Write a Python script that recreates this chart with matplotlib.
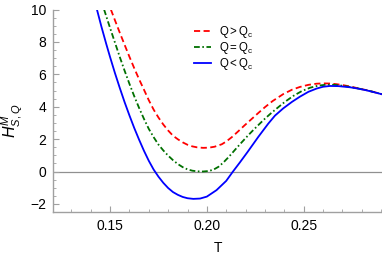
import matplotlib
matplotlib.use('Agg')
import matplotlib.pyplot as plt
from matplotlib.ticker import MultipleLocator

plt.rcParams['font.family'] = ['Liberation Sans', 'DejaVu Sans']
plt.rcParams['mathtext.fontset'] = 'custom'
plt.rcParams['mathtext.rm'] = 'Liberation Sans'
plt.rcParams['mathtext.it'] = 'Liberation Sans:italic'

# values
T_gt = [0.1504, 0.1525, 0.1550, 0.1575, 0.1600, 0.1625, 0.1650, 0.1675, 0.1700, 0.1725,
        0.1750, 0.1775, 0.1800, 0.1825, 0.1850, 0.1875, 0.1900, 0.1925, 0.1950, 0.1980,
        0.2010, 0.2040, 0.2077, 0.2100, 0.2130, 0.2162, 0.2195, 0.2223, 0.2260, 0.2300,
        0.2340, 0.2395, 0.2440, 0.2481, 0.2525, 0.2567, 0.2600, 0.2636, 0.2670, 0.2704,
        0.2739, 0.2780, 0.2825, 0.2865, 0.2904]
H_gt = [10.0, 9.34, 8.57, 7.82, 7.08, 6.37, 5.69, 5.05, 4.40, 3.82,
        3.33, 2.90, 2.53, 2.21, 1.99, 1.80, 1.65, 1.55, 1.49, 1.46,
        1.47, 1.53, 1.68, 1.85, 2.13, 2.48, 2.85, 3.15, 3.55, 3.97,
        4.35, 4.78, 5.05, 5.22, 5.35, 5.42, 5.44, 5.43, 5.39, 5.33,
        5.25, 5.14, 5.02, 4.90, 4.77]

T_eq = [0.1469, 0.1490, 0.1520, 0.1550, 0.1575, 0.1600, 0.1625, 0.1650, 0.1675, 0.1700,
        0.1725, 0.1750, 0.1775, 0.1800, 0.1825, 0.1850, 0.1875, 0.1900, 0.1925, 0.1950,
        0.1980, 0.2010, 0.2035, 0.2060, 0.2085, 0.2110, 0.2128, 0.2150, 0.2180, 0.2214,
        0.2245, 0.2274, 0.2300, 0.2330, 0.2361, 0.2400, 0.2446, 0.2490, 0.2533, 0.2575,
        0.2619, 0.2660, 0.2704, 0.2739, 0.2780, 0.2825, 0.2865, 0.2904]
H_eq = [10.0, 9.22, 8.14, 7.07, 6.22, 5.41, 4.64, 3.92, 3.25, 2.63,
        2.12, 1.66, 1.30, 0.98, 0.70, 0.46, 0.27, 0.13, 0.05, 0.01,
        0.0, 0.03, 0.12, 0.29, 0.55, 0.86, 1.10, 1.40, 1.80, 2.24,
        2.62, 2.96, 3.26, 3.58, 3.89, 4.27, 4.66, 4.96, 5.17, 5.30,
        5.36, 5.35, 5.29, 5.22, 5.13, 5.02, 4.90, 4.77]

T_lt = [0.1432, 0.1455, 0.1480, 0.1500, 0.1525, 0.1550, 0.1575, 0.1600, 0.1625, 0.1650,
        0.1675, 0.1700, 0.1725, 0.1750, 0.1775, 0.1800, 0.1825, 0.1850, 0.1875, 0.1900,
        0.1930, 0.1965, 0.2000, 0.2050, 0.2100, 0.2135, 0.2170, 0.2210, 0.2266, 0.2317,
        0.2352, 0.2395, 0.2440, 0.2481, 0.2525, 0.2567, 0.2600, 0.2636, 0.2680, 0.2739,
        0.2780, 0.2825, 0.2865, 0.2904]
H_lt = [10.0, 8.95, 7.88, 7.06, 6.08, 5.16, 4.28, 3.46, 2.68, 1.96,
        1.28, 0.66, 0.12, -0.32, -0.70, -1.02, -1.27, -1.44, -1.57, -1.65,
        -1.69, -1.67, -1.55, -1.15, -0.58, 0.0, 0.55, 1.20, 2.14, 2.95,
        3.45, 3.90, 4.30, 4.62, 4.92, 5.12, 5.23, 5.28, 5.27, 5.20,
        5.12, 5.01, 4.89, 4.77]

labels = [r'$\mathrm{Q}>\mathrm{Q}_\mathrm{c}$', r'$\mathrm{Q}=\mathrm{Q}_\mathrm{c}$',
          r'$\mathrm{Q}<\mathrm{Q}_\mathrm{c}$']

fig = plt.figure(figsize=(3.82, 2.56), dpi=100)
ax = fig.add_axes([53 / 382, 1 - 212 / 256, 1 - 53 / 382, (212 - 9.5) / 256])

grey = '#a0a0a0'
ax.axhline(0, color='#909090', lw=0.9, zorder=1)

ax.plot(T_gt, H_gt, color='#ff0000', lw=1.3, dashes=(3.4, 1.9), label=labels[0])
ax.plot(T_eq, H_eq, color='#007000', lw=1.3, dashes=(3.2, 1.4, 0.9, 1.4), label=labels[1])
ax.plot(T_lt, H_lt, color='#0000ff', lw=1.3, label=labels[2])

ax.set_xlim(0.1205, 0.2905)
ax.set_ylim(-2.5, 10)

ax.xaxis.set_major_locator(MultipleLocator(0.05))
ax.xaxis.set_minor_locator(MultipleLocator(0.01))
ax.yaxis.set_major_locator(MultipleLocator(2))
ax.yaxis.set_minor_locator(MultipleLocator(0.5))
ax.xaxis.set_major_formatter(plt.FuncFormatter(lambda v, p: f'{v:.2f}'))
ax.yaxis.set_major_formatter(plt.FuncFormatter(lambda v, p: f'{v:.0f}'.replace('-', '\u2212')))

for s in ['top', 'right']:
    ax.spines[s].set_visible(False)
for s in ['left', 'bottom']:
    ax.spines[s].set_color(grey)
    ax.spines[s].set_linewidth(1.0)

ax.tick_params(which='both', direction='in', color=grey, labelsize=10, labelcolor='black')
ax.tick_params(which='major', length=4, width=0.8, pad=5)
ax.tick_params(which='minor', length=2.3, width=0.6)

ax.set_xlabel('T', fontsize=10, labelpad=6)
ax.set_ylabel(r'$H^{M}_{S,Q}$', fontsize=11.5)
ax.yaxis.set_label_coords(-0.085, 0.45)

ax.legend(loc='upper left', bbox_to_anchor=(194 / 382, 1 - 24 / 256), bbox_transform=fig.transFigure,
          frameon=False, fontsize=8.3, handlelength=1.45, handletextpad=0.75,
          labelspacing=0.0, borderpad=0, borderaxespad=0)

fig.savefig('out.png', dpi=100)
